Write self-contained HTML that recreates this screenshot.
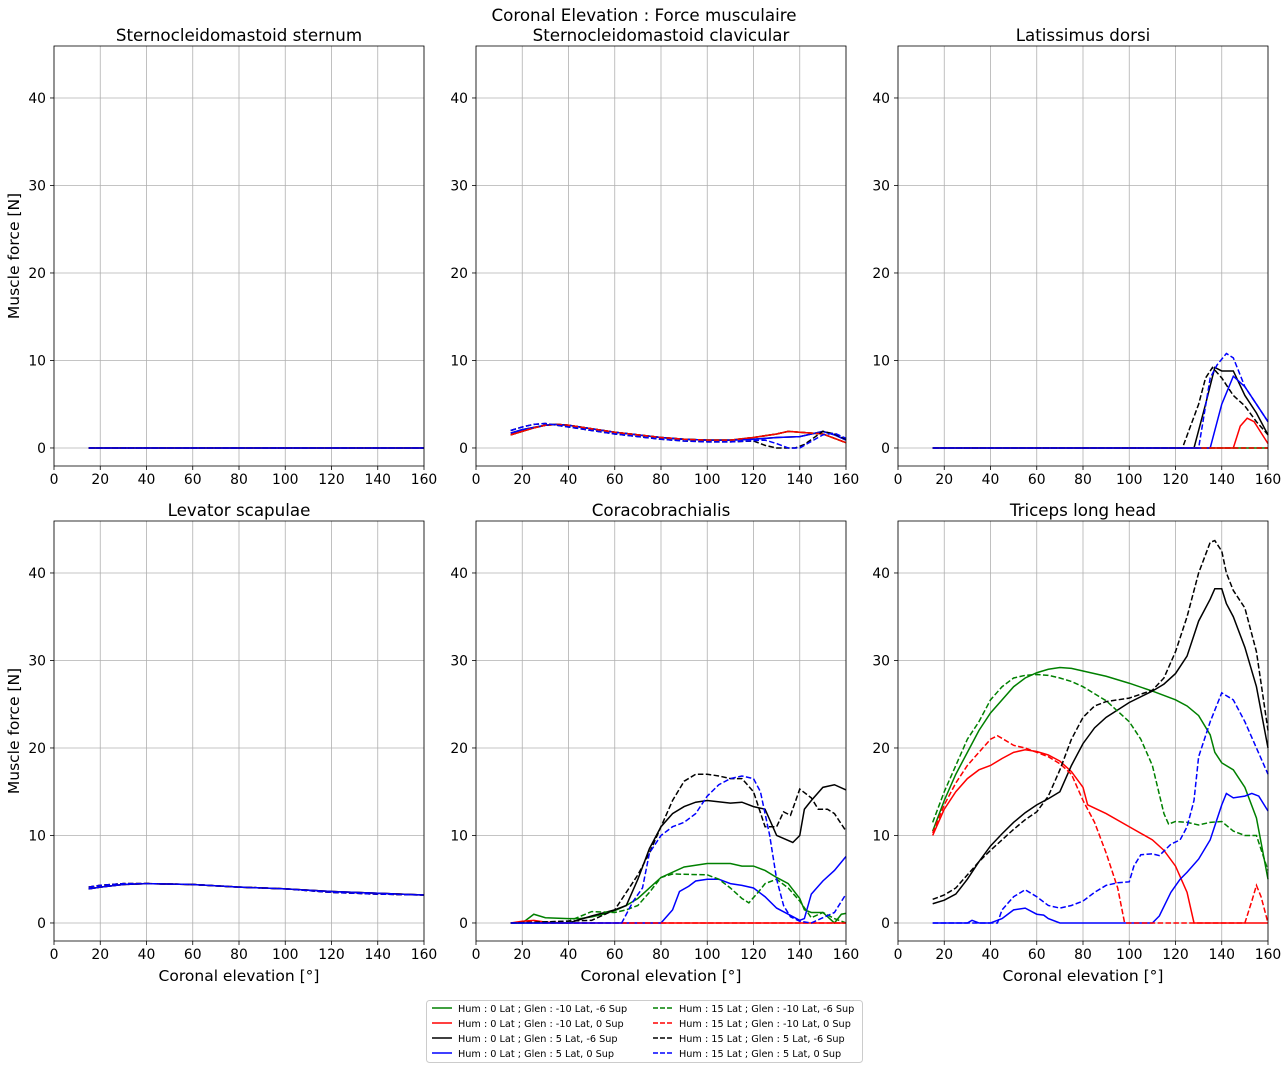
<!DOCTYPE html>
<html><head><meta charset="utf-8"><style>
body{margin:0;background:#fff;}
svg text{font-family:"DejaVu Sans","Liberation Sans",sans-serif;}
</style></head><body>
<svg id="chart" width="1288" height="1070" xmlns="http://www.w3.org/2000/svg">
<text x="644" y="21" text-anchor="middle" font-size="16.7">Coronal Elevation : Force musculaire</text>
</svg>
<script>
const xTicks=[0,20,40,60,80,100,120,140,160];
const yTicks=[0,10,20,30,40];
const panelTitles=["Sternocleidomastoid sternum","Sternocleidomastoid clavicular","Latissimus dorsi","Levator scapulae","Coracobrachialis","Triceps long head"];
const seriesLabels=["Hum : 0 Lat ; Glen : -10 Lat, -6 Sup","Hum : 0 Lat ; Glen : -10 Lat, 0 Sup","Hum : 0 Lat ; Glen : 5 Lat, -6 Sup","Hum : 0 Lat ; Glen : 5 Lat, 0 Sup","Hum : 15 Lat ; Glen : -10 Lat, -6 Sup","Hum : 15 Lat ; Glen : -10 Lat, 0 Sup","Hum : 15 Lat ; Glen : 5 Lat, -6 Sup","Hum : 15 Lat ; Glen : 5 Lat, 0 Sup"];
const seriesColors=["green","red","black","blue","green","red","black","blue"];
const seriesDash=[false,false,false,false,true,true,true,true];

const zero=[[15,0],[160,0]];
const p1=[zero,zero,zero,zero,zero,zero,zero,zero];
const scmBase=[[15,1.5],[20,1.9],[25,2.3],[30,2.6],[35,2.7],[40,2.6],[50,2.2],[60,1.8],[70,1.5],[80,1.2],[90,1.0],[100,0.9],[110,0.9],[120,1.2],[130,1.6],[135,1.9],[140,1.8],[150,1.6],[160,0.6]];
const scmBlack=[[15,1.7],[20,2.1],[30,2.6],[35,2.7],[40,2.6],[50,2.2],[60,1.8],[70,1.5],[80,1.2],[90,1.0],[100,0.9],[110,0.9],[120,1.0],[130,1.2],[140,1.3],[150,1.9],[155,1.5],[160,0.9]];
const scmDash=[[15,2.0],[20,2.4],[25,2.7],[30,2.8],[35,2.6],[40,2.4],[50,2.0],[60,1.6],[70,1.3],[80,1.0],[90,0.8],[100,0.7],[110,0.7],[120,0.8],[125,0.3],[130,0],[138,0],[142,0.4],[150,1.9],[155,1.6],[160,1.0]];
const scmBlueDash=[[15,2.0],[20,2.4],[25,2.7],[30,2.8],[35,2.6],[40,2.4],[50,2.0],[60,1.6],[70,1.3],[80,1.0],[90,0.8],[100,0.7],[110,0.7],[125,0.9],[130,0.5],[135,0],[140,0],[150,1.5],[155,1.7],[160,1.1]];
const p2=[scmBase,scmBase,scmBlack,scmBlack,scmBase,scmBase,scmDash,scmBlueDash];
const latRed=[[15,0],[145,0],[148,2.5],[151,3.4],[154,3],[160,0.5]];
const latBlack=[[15,0],[128,0],[133,5],[137,9.2],[140,8.8],[145,8.8],[150,6],[155,4],[160,1.5]];
const latBlue=[[15,0],[135,0],[140,5],[145,8.2],[150,7],[155,5],[160,3]];
const latBlackDash=[[15,0],[123,0],[130,5],[133,8],[136,9.2],[140,8],[145,6],[150,4.8],[155,3],[160,1.5]];
const latBlueDash=[[15,0],[130,0],[135,8],[138,9.5],[142,10.8],[145,10.3],[150,7],[155,5],[160,3]];
const p3=[zero,latRed,latBlack,latBlue,zero,zero,latBlackDash,latBlueDash];
const lev=[[15,3.9],[20,4.1],[30,4.4],[40,4.5],[60,4.4],[80,4.1],[100,3.9],[120,3.6],[140,3.4],[160,3.2]];
const levD=[[15,4.1],[20,4.3],[30,4.5],[40,4.5],[60,4.4],[80,4.1],[100,3.9],[120,3.5],[140,3.3],[160,3.2]];
const p4=[lev,lev,lev,lev,levD,levD,levD,levD];
const corGreen=[[15,0],[20,0],[25,1.0],[30,0.6],[40,0.5],[45,0.5],[50,0.7],[55,1.0],[60,1.4],[65,2.0],[70,2.8],[75,4.0],[80,5.2],[90,6.4],[100,6.8],[110,6.8],[115,6.5],[120,6.5],[125,6],[130,5.2],[135,4.5],[140,2.8],[142,1.5],[145,1.2],[150,1.2],[155,0],[158,1],[160,1.1]];
const corRed=[[15,0],[20,0.2],[25,0.3],[30,0.1],[40,0],[160,0]];
const corBlack=[[15,0],[40,0],[50,0.8],[60,1.5],[65,2],[70,5],[75,8.5],[80,11],[85,12.5],[90,13.3],[95,13.8],[100,14],[110,13.7],[115,13.8],[120,13.3],[125,13],[130,10],[137,9.2],[140,10],[142,13],[145,14],[150,15.5],[155,15.8],[160,15.2]];
const corBlue=[[15,0],[80,0],[85,1.5],[88,3.6],[92,4.2],[95,4.8],[100,5.0],[105,5.0],[110,4.5],[115,4.3],[120,4.0],[125,3],[130,1.7],[135,1.0],[140,0.3],[142,0.5],[145,3.3],[150,4.8],[155,6],[160,7.6]];
const corGreenDash=[[15,0],[40,0.2],[50,1.3],[60,1.2],[65,1.5],[70,2.0],[75,3.5],[80,5.2],[85,5.6],[100,5.5],[105,5.0],[110,4.0],[115,2.8],[118,2.3],[122,3.5],[125,4.5],[130,5.0],[135,4.0],[140,2.5],[145,0.6],[150,1.2],[155,0.5],[160,0]];
const corRedDash=[[15,0],[25,0.1],[30,0],[160,0]];
const corBlackDash=[[15,0],[50,0.3],[60,1.5],[65,3.5],[70,5.5],[75,8],[80,11],[85,14],[90,16.2],[95,17],[100,17],[105,16.8],[110,16.5],[115,16.5],[120,15],[125,11],[130,11],[133,12.7],[136,12.3],[140,15.3],[145,14.3],[148,13],[152,13],[155,12.5],[160,10.5]];
const corBlueDash=[[15,0],[63,0],[68,2.5],[72,4],[75,8],[80,10],[85,11],[90,11.5],[95,12.5],[100,14.5],[105,15.8],[110,16.5],[115,16.8],[120,16.5],[123,15],[127,10],[130,5],[133,2],[136,0.7],[140,0.2],[145,0],[150,0.6],[155,1.2],[160,3.3]];
const p5=[corGreen,corRed,corBlack,corBlue,corGreenDash,corRedDash,corBlackDash,corBlueDash];
const triGreen=[[15,10.5],[20,14],[25,17],[30,19.5],[35,22],[40,24],[45,25.5],[50,27],[55,28],[60,28.6],[65,29],[70,29.2],[75,29.1],[80,28.8],[90,28.2],[100,27.4],[110,26.5],[115,26],[120,25.5],[125,24.8],[130,23.7],[135,21.5],[137,19.5],[140,18.3],[145,17.5],[150,15.5],[155,12],[160,5]];
const triRed=[[15,10],[20,13],[25,15],[30,16.5],[35,17.5],[40,18],[45,18.8],[50,19.5],[55,19.8],[60,19.6],[65,19.2],[70,18.5],[75,17.3],[80,15.5],[82,13.5],[90,12.5],[100,11],[110,9.5],[115,8.3],[120,6.5],[125,3.5],[128,0],[160,0]];
const triBlack=[[15,2.2],[20,2.6],[25,3.3],[30,5],[35,7],[40,8.8],[45,10.2],[50,11.5],[55,12.6],[60,13.5],[65,14.2],[70,15],[75,18],[80,20.5],[85,22.3],[90,23.5],[100,25.2],[110,26.5],[115,27.3],[120,28.5],[125,30.5],[130,34.5],[135,37],[137,38.2],[140,38.2],[142,36.5],[145,35],[150,31.5],[155,27],[160,20]];
const triBlue=[[15,0],[30,0],[32,0.3],[35,0],[40,0],[45,0.5],[50,1.5],[55,1.7],[60,1.0],[63,0.9],[65,0.5],[70,0],[110,0],[113,0.8],[118,3.5],[122,5],[125,5.8],[130,7.3],[135,9.5],[140,13.5],[142,14.8],[145,14.3],[150,14.5],[153,14.8],[156,14.5],[160,12.8]];
const triGreenDash=[[15,11.5],[20,15],[25,18],[30,21],[35,23],[40,25.5],[45,27],[50,28],[55,28.3],[60,28.4],[65,28.3],[70,28],[75,27.6],[80,27],[90,25.4],[100,23],[105,21],[110,18],[115,12.5],[117,11.3],[120,11.6],[125,11.5],[130,11.2],[135,11.5],[140,11.6],[145,10.5],[150,10],[155,10],[160,6]];
const triRedDash=[[15,10.3],[20,13.5],[25,16],[30,18],[35,19.5],[40,21],[43,21.4],[45,21.1],[50,20.3],[55,20],[60,19.5],[65,19],[70,18.2],[75,17],[80,14],[85,11.5],[90,8],[95,4],[98,0],[150,0],[153,2.5],[155,4.3],[157,3],[160,0]];
const triBlackDash=[[15,2.7],[20,3.2],[25,4],[30,5.5],[35,7],[40,8.3],[45,9.5],[50,10.7],[55,11.8],[60,12.7],[65,14.5],[70,17.5],[75,21],[80,23.5],[85,24.8],[90,25.3],[100,25.7],[110,26.6],[115,28],[120,31],[125,35],[130,40],[135,43.5],[137,43.7],[140,42.5],[142,40],[145,38],[150,36],[155,31],[160,22]];
const triBlueDash=[[15,0],[43,0],[45,1.5],[50,3],[55,3.8],[60,3],[65,2],[70,1.7],[75,2],[80,2.5],[85,3.5],[90,4.3],[95,4.6],[100,4.7],[102,6.5],[105,7.8],[110,7.9],[113,7.7],[118,9],[122,9.5],[125,11],[128,14],[130,19],[135,23],[140,26.3],[145,25.5],[150,23],[155,20],[160,17]];
const p6=[triGreen,triRed,triBlack,triBlue,triGreenDash,triRedDash,triBlackDash,triBlueDash];
const panels=[p1,p2,p3,p4,p5,p6];

const NS="http://www.w3.org/2000/svg";
const svg=document.getElementById('chart');
function mk(tag,attrs,parent){const e=document.createElementNS(NS,tag);for(const k in attrs)e.setAttribute(k,attrs[k]);(parent||svg).appendChild(e);return e;}
const colX=[54,476,898], rowY=[46,521], W=370, H=420;
const yMin=-2.06,yMax=45.94;
panels.forEach((series,pi)=>{
  const ox=colX[pi%3], oy=rowY[Math.floor(pi/3)];
  const sx=v=>ox+v/160*W, sy=v=>oy+(yMax-v)/(yMax-yMin)*H;
  const g=mk('g',{});
  
  
  const t=mk('text',{x:ox+W/2,y:oy-5,'text-anchor':'middle','font-size':16.7},g);
  t.textContent=panelTitles[pi];
  
  
  xTicks.forEach(v=>{
    mk('line',{x1:sx(v),x2:sx(v),y1:oy,y2:oy+H,stroke:'#b0b0b0','stroke-width':0.8},g);
    mk('line',{x1:sx(v),x2:sx(v),y1:oy+H,y2:oy+H+4,stroke:'#000','stroke-width':0.8},g);
    const tl=mk('text',{x:sx(v),y:oy+H+18,'text-anchor':'middle','font-size':13.9},g);
    tl.textContent=v;
    
    
  });
  yTicks.forEach(v=>{
    mk('line',{x1:ox,x2:ox+W,y1:sy(v),y2:sy(v),stroke:'#b0b0b0','stroke-width':0.8},g);
    mk('line',{x1:ox-4,x2:ox,y1:sy(v),y2:sy(v),stroke:'#000','stroke-width':0.8},g);
    const tl=mk('text',{x:ox-8,y:sy(v)+5,'text-anchor':'end','font-size':13.9},g);
    tl.textContent=v;
    
    
  });
  series.forEach((pts,si)=>{
    const p=mk('polyline',{points:pts.map(d=>sx(d[0])+','+sy(d[1])).join(' '),fill:'none',stroke:seriesColors[si],'stroke-width':1.5},g);
    if(seriesDash[si])p.setAttribute('stroke-dasharray','5.5,2.4');
    
    
  });
  mk('rect',{x:ox,y:oy,width:W,height:H,fill:'none',stroke:'#000','stroke-width':0.8},g);
  if(pi%3===0){
    const yl=mk('text',{x:0,y:0,'text-anchor':'middle','font-size':15.5,transform:`translate(19,${oy+H/2}) rotate(-90)`},g);
    yl.textContent='Muscle force [N]';
    
    
  }
  if(pi>=3){
    const xl=mk('text',{x:ox+W/2,y:oy+H+40,'text-anchor':'middle','font-size':15.5},g);
    xl.textContent='Coronal elevation [°]';
    
    
  }
});
const lg=mk('g',{});


mk('rect',{x:426.5,y:1000.5,width:436,height:62,rx:3,fill:'#fff',stroke:'#ccc','stroke-width':1},lg);
seriesLabels.forEach((lab,i)=>{
  const col=Math.floor(i/4), row=i%4;
  const x=432+col*221, y=1008+row*15;
  const l=mk('line',{x1:x,x2:x+20,y1:y,y2:y,stroke:seriesColors[i],'stroke-width':1.5},lg);
  if(seriesDash[i])l.setAttribute('stroke-dasharray','5,2');
  const t=mk('text',{x:x+26,y:y+4,'font-size':9.7},lg);
  t.textContent=lab;
  
  
});
</script>
</body></html>
